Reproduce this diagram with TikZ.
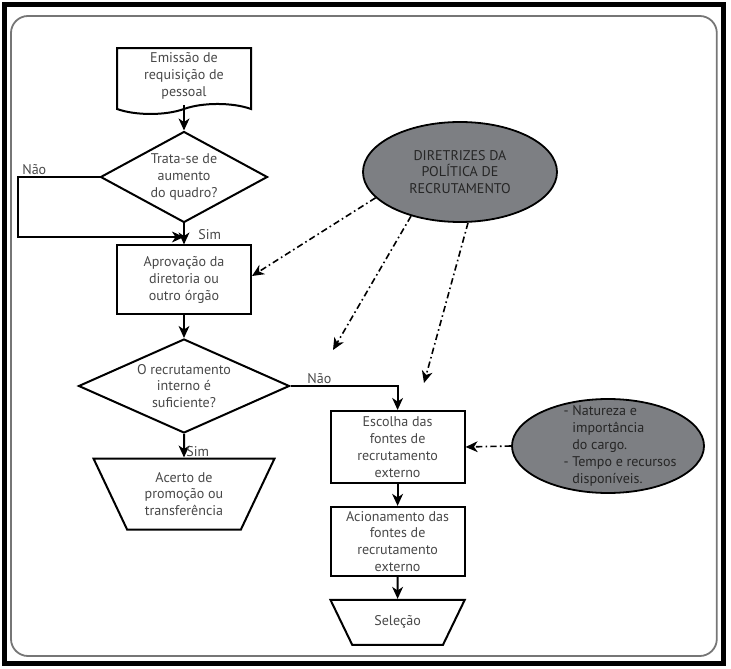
\documentclass[tikz,border=0pt]{standalone}
\usepackage{fontspec}
\setmainfont{PT Sans}
\usepackage{tikz}
\usetikzlibrary{arrows.meta,shapes,positioning}

\begin{document}
\begin{tikzpicture}[node distance = 2cm, >={Stealth[length=3mm,width=2.7mm,inset=0.9mm]}, text=mytext]
    \definecolor{mygray}{RGB}{125,127,131}
    \definecolor{mytext}{RGB}{72,72,72}
    \definecolor{myframe}{RGB}{118,118,118}

    \fontsize{10pt}{12pt}\selectfont  % 字体大小
    \tikzstyle{format}=[rectangle,draw,line width=0.5mm,minimum width=33.5mm,minimum height=17.25mm,inner ysep=1mm,align=center]  % 流程框
    \tikzstyle{test}=[diamond,draw,line width=0.5mm,inner sep=0pt,align=center]  % 判断框
    \tikzstyle{doc}=[tape,tape bend top=none,tape bend bottom=in and out,tape bend height=2.5mm,draw,line width=0.5mm,minimum width=33.5mm,minimum height=16mm,align=center]  % 文档框
    \tikzstyle{trap}=[trapezium,shape border rotate=180,trapezium stretches=true,draw,line width=0.5mm,align=center]  % 倒梯形
    \tikzstyle{circ}=[ellipse,draw,line width=0.45mm,fill=mygray,inner sep=0pt,text=black!85]  % 灰色椭圆
    \tikzstyle{seta}=[->,line width=0.5mm]  % 实线箭头
    \tikzstyle{influence}=[->,line width=0.4mm,dash pattern=on 1.6mm off 0.8mm on 0.4mm off 0.8mm]  % 点划线箭头
    \tikzstyle{rotulo}=[inner sep=1pt]  % 连线标注

    % 边框
    \useasboundingbox (0,0) rectangle (182.75mm,-167.25mm);
    \draw[line width=1.25mm] (1mm,-1.2mm) rectangle (180.9mm,-165.8mm);
    \draw[draw=myframe,line width=0.45mm,rounded corners=4.25mm] (2.75mm,-4mm) rectangle (179.2mm,-164mm);

    % 左列
    \node[doc](emissao) at (46mm,-19mm){Emissão de\\requisição de\\pessoal};
    \node[test,below of=emissao,node distance=25.25mm,minimum width=41.75mm,minimum height=22.75mm,aspect=1.84](quadro){Trata-se de\\aumento\\do quadro?};
    \node[format,below of=quadro,node distance=25.75mm](aprovacao){Aprovação da\\diretoria ou\\outro órgão};
    \node[test,below of=aprovacao,node distance=26.5mm,minimum width=52.75mm,minimum height=23.5mm,aspect=2.24](interno){O recrutamento\\interno é\\suficiente?};
    \node[trap,below of=interno,node distance=27mm,trapezium angle=64,minimum width=45.5mm,minimum height=17.75mm](acerto){Acerto de\\promoção ou\\transferência};

    % 右列
    \node[format,minimum height=18mm](escolha) at (99.4mm,-111.75mm){Escolha das\\fontes de\\recrutamento\\externo};
    \node[format,below of=escolha,node distance=23.6mm](acionamento){Acionamento das\\fontes de\\recrutamento\\externo};
    \node[trap,below of=acionamento,node distance=20.25mm,trapezium angle=59,minimum width=33.75mm,minimum height=11.25mm](selecao){Seleção};

    % 椭圆
    \node[circ,minimum width=48.5mm,minimum height=25mm,align=center](diretrizes) at (115mm,-43mm){DIRETRIZES DA\\POLÍTICA DE\\RECRUTAMENTO};
    \node[circ,minimum width=48mm,minimum height=23.5mm](fatores) at (152mm,-111.5mm){};
    \node[align=left,text=black!85](fatorestxt) at (155mm,-111.5mm){- Natureza e\\\phantom{- }importância\\\phantom{- }do cargo.\\- Tempo e recursos\\\phantom{- }disponíveis.};

    \coordinate (nao) at (4.5mm,-59.25mm);
    \coordinate (alvo1) at (83.25mm,-87.5mm);
    \coordinate (alvo2) at (106mm,-95.75mm);

    % 开始画线
    \draw[seta](emissao.south)--(quadro.north);
    \draw[seta](quadro.south)--node[rotulo,right,pos=0.55,xshift=3mm]{Sim}(aprovacao.north);
    \draw[seta](quadro.west)--node[rotulo,above,pos=0.8]{Não}(quadro.west -| nao)--(nao)--(nao -| aprovacao.north);
    \draw[seta](aprovacao)--(interno);
    \draw[seta](interno.south)--node[rotulo,right,pos=0.75]{Sim}(acerto.north);
    \draw[seta](interno.east)--node[rotulo,above,pos=0.27]{Não}(interno.east -| escolha.north)--(escolha.north);
    \draw[seta](escolha)--(acionamento);
    \draw[seta](acionamento)--(selecao);
    \draw[influence](diretrizes.197)--([yshift=1mm]aprovacao.east);
    \draw[influence](diretrizes.222)--(alvo1);
    \draw[influence](diretrizes.279)--(alvo2);
    \draw[influence](fatores.west)--(escolha.east);
\end{tikzpicture}
\end{document}
